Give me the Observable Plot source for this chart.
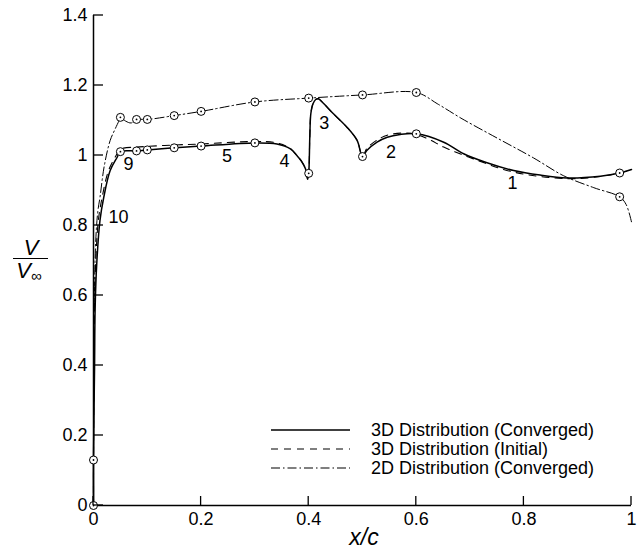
<!DOCTYPE html>
<html>
<head>
<meta charset="utf-8">
<script src="https://cdn.jsdelivr.net/npm/d3@7"></script>
<script src="https://cdn.jsdelivr.net/npm/@observablehq/plot@0.6"></script>
<style>
  html, body { margin: 0; padding: 0; background: #fff; }
  #chart svg { display: block; }
</style>
</head>
<body>
<div id="chart"></div>
<script>
const xTicks = [0, 0.2, 0.4, 0.6, 0.8, 1];
const yTicks = [0, 0.2, 0.4, 0.6, 0.8, 1, 1.2, 1.4];

const converged3D = [
  [0,0],[0,0.13],[0.002,0.40],[0.003,0.56],[0.006,0.69],[0.012,0.814],[0.019,0.88],
  [0.031,0.957],[0.044,0.995],[0.05,1.011],[0.08,1.013],[0.1,1.016],[0.15,1.022],
  [0.2,1.027],[0.3,1.036],[0.341,1.033],[0.366,1.019],[0.378,1.0],[0.386,0.985],
  [0.394,0.962],[0.398,0.932],[0.4,0.949],[0.402,1.05],[0.404,1.12],[0.408,1.148],
  [0.413,1.16],[0.418,1.162],[0.425,1.153],[0.446,1.119],[0.471,1.081],[0.49,1.043],
  [0.5,0.997],[0.508,1.014],[0.527,1.038],[0.546,1.052],[0.57,1.06],[0.6,1.062],
  [0.651,1.038],[0.688,1.005],[0.73,0.98],[0.781,0.957],[0.83,0.944],[0.88,0.936],
  [0.942,0.941],[0.978,0.95],[1,0.96]
];

const initial3D = [
  [0,0],[0,0.13],[0.001,0.40],[0.002,0.56],[0.004,0.69],[0.009,0.814],[0.016,0.88],
  [0.028,0.957],[0.042,1.0],[0.05,1.018],[0.08,1.024],[0.1,1.026],[0.15,1.03],
  [0.2,1.033],[0.3,1.04],[0.341,1.036],[0.366,1.02],[0.378,1.0],[0.386,0.985],
  [0.394,0.962],[0.398,0.932],[0.4,0.949],[0.402,1.05],[0.404,1.12],[0.408,1.148],
  [0.413,1.16],[0.418,1.162],[0.425,1.153],[0.446,1.119],[0.471,1.081],[0.49,1.043],
  [0.5,0.997],[0.508,1.02],[0.527,1.044],[0.546,1.058],[0.575,1.064],[0.6,1.06],
  [0.625,1.045],[0.651,1.024],[0.707,0.99],[0.78,0.953],[0.88,0.934],[0.942,0.94],
  [0.978,0.95],[1,0.96]
];

const converged2D = [
  [0,0],[0,0.13],[0.001,0.5],[0.004,0.75],[0.008,0.84],[0.012,0.88],[0.02,0.97],
  [0.031,1.043],[0.04,1.075],[0.047,1.098],[0.05,1.109],[0.06,1.098],[0.07,1.093],
  [0.08,1.103],[0.1,1.103],[0.15,1.114],[0.2,1.126],[0.3,1.153],[0.4,1.164],
  [0.5,1.173],[0.6,1.18],[0.64,1.147],[0.685,1.105],[0.75,1.05],[0.818,0.993],
  [0.874,0.942],[0.93,0.908],[0.978,0.882],[0.99,0.86],[1,0.81]
];

const markers3D = [
  [0,0],[0,0.13],[0.05,1.011],[0.08,1.013],[0.1,1.016],[0.15,1.022],[0.2,1.027],
  [0.3,1.036],[0.4,0.949],[0.5,0.997],[0.6,1.062],[0.978,0.95]
];
const markers2D = [
  [0.05,1.109],[0.08,1.103],[0.1,1.103],[0.15,1.114],[0.2,1.126],[0.3,1.153],
  [0.4,1.164],[0.5,1.173],[0.6,1.18],[0.978,0.882]
];

const regionLabels = [
  {x: 0.779, y: 0.921, t: "1"},
  {x: 0.553, y: 1.009, t: "2"},
  {x: 0.429, y: 1.092, t: "3"},
  {x: 0.355, y: 0.983, t: "4"},
  {x: 0.248, y: 0.998, t: "5"},
  {x: 0.065, y: 0.976, t: "9"},
  {x: 0.0465, y: 0.824, t: "10"}
];

const legendNames = ["3D Distribution (Converged)", "3D Distribution (Initial)", "2D Distribution (Converged)"];
const legendDash = [null, "7,6", "9,3,1.5,3"];

const FONT = "Liberation Sans, Arial, Helvetica, sans-serif";
const allMarkers = markers3D.concat(markers2D);
const fmt = d => String(+d.toFixed(1));

const plot = Plot.plot({
  width: 644,
  height: 550,
  marginLeft: 93,
  marginRight: 13,
  marginTop: 15,
  marginBottom: 45,
  style: { fontFamily: FONT, fontSize: "18px", color: "#000", background: "#fff" },
  x: { domain: [0, 1] },
  y: { domain: [0, 1.4] },
  marks: [
    Plot.axisX(xTicks, { tickSize: 0, tickPadding: 7, label: null, fontSize: 18, tickFormat: fmt }),
    Plot.axisY(yTicks, { tickSize: 0, tickPadding: 6, label: null, fontSize: 18, tickFormat: fmt }),
    Plot.ruleX([0], { stroke: "#000", strokeWidth: 1.5 }),
    Plot.ruleY([0], { stroke: "#000", strokeWidth: 1.5 }),
    Plot.line(converged2D, { x: d => d[0], y: d => d[1], stroke: "#000", strokeWidth: 1, strokeDasharray: "9,3,1.5,3", curve: "catmull-rom" }),
    Plot.line(initial3D, { x: d => d[0], y: d => d[1], stroke: "#000", strokeWidth: 1.1, strokeDasharray: "7,6", curve: "catmull-rom" }),
    Plot.line(converged3D, { x: d => d[0], y: d => d[1], stroke: "#000", strokeWidth: 1.5, curve: "catmull-rom" }),
    Plot.dot(allMarkers, { x: d => d[0], y: d => d[1], r: 4, fill: "#fff", stroke: "#000", strokeWidth: 1 }),
    Plot.dot(allMarkers, { x: d => d[0], y: d => d[1], r: 0.9, fill: "#000", stroke: null }),
    Plot.text(regionLabels, { x: "x", y: "y", text: "t", fontSize: 18, fill: "#000", textAnchor: "middle", lineAnchor: "middle" })
  ]
});

document.getElementById("chart").appendChild(plot);

const svg = d3.select(plot);
const sx = plot.scale("x"), sy = plot.scale("y");

// Inward tick marks using the plot's scales
const tg = svg.append("g").attr("stroke", "#000").attr("stroke-width", 1.3);
xTicks.forEach(v => {
  const px = sx.apply(v), py = sy.apply(0);
  tg.append("line").attr("x1", px).attr("x2", px).attr("y1", py).attr("y2", py - 9);
});
yTicks.forEach(v => {
  const px = sx.apply(0), py = sy.apply(v);
  tg.append("line").attr("x1", px).attr("x2", px + 10).attr("y1", py).attr("y2", py);
});

// Legend
const lg = svg.append("g").attr("font-family", FONT).attr("font-size", 18).attr("text-anchor", "start");
legendNames.forEach((name, i) => {
  const yy = 430 + i * 19;
  const ln = lg.append("line").attr("x1", 271).attr("x2", 350).attr("y1", yy).attr("y2", yy)
    .attr("stroke", "#000").attr("stroke-width", i === 0 ? 1.5 : 1.1);
  if (legendDash[i]) ln.attr("stroke-dasharray", legendDash[i]);
  lg.append("text").attr("x", 371).attr("y", yy).attr("dy", "0.35em").attr("fill", "#000")
    .attr("text-anchor", "start").text(name);
});

// Y axis label: V / V∞
const yl = svg.append("g").attr("font-family", FONT).attr("fill", "#000");
yl.append("text").attr("x", 31).attr("y", 255).attr("text-anchor", "middle")
  .attr("font-size", 22).attr("font-style", "italic").text("V");
yl.append("line").attr("x1", 13).attr("x2", 48).attr("y1", 258.5).attr("y2", 258.5)
  .attr("stroke", "#000").attr("stroke-width", 1.2);
const vinf = yl.append("text").attr("x", 29).attr("y", 278).attr("text-anchor", "middle")
  .attr("font-size", 22).attr("font-style", "italic");
vinf.append("tspan").text("V");
vinf.append("tspan").attr("font-size", 15).attr("font-style", "normal").attr("dy", 3).text("\u221E");

// X axis label
svg.append("text").attr("x", 364).attr("y", 545).attr("text-anchor", "middle")
  .attr("font-family", FONT).attr("font-size", 23).attr("font-style", "italic")
  .attr("fill", "#000").text("x/c");
</script>
</body>
</html>
